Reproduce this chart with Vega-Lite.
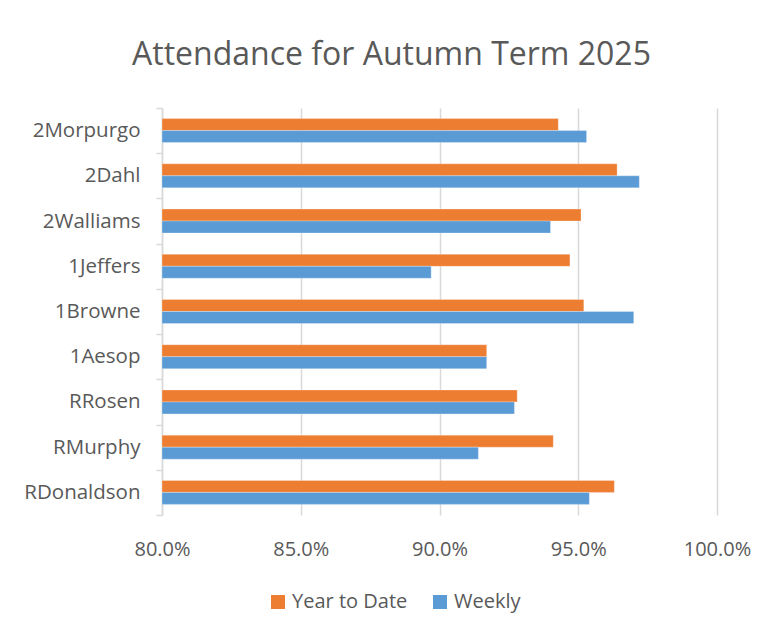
{
  "$schema": "https://vega.github.io/schema/vega-lite/v6.json",
  "autosize": "none",
  "width": 555,
  "height": 407,
  "padding": {"left": 162, "top": 108, "right": 56, "bottom": 118},
  "background": "white",
  "title": {
    "text": "Attendance for Autumn Term 2025",
    "font": "Open Sans",
    "fontSize": 32,
    "fontWeight": "normal",
    "color": "#595959",
    "anchor": "middle",
    "dx": -48,
    "offset": 26
  },
  "config": {
    "view": {"stroke": null},
    "font": "Open Sans"
  },
  "data": {
    "values": [
      {"class": "2Morpurgo", "series": "Year to Date", "value": 0.9428},
      {"class": "2Morpurgo", "series": "Weekly", "value": 0.953},
      {"class": "2Dahl", "series": "Year to Date", "value": 0.964},
      {"class": "2Dahl", "series": "Weekly", "value": 0.972},
      {"class": "2Walliams", "series": "Year to Date", "value": 0.951},
      {"class": "2Walliams", "series": "Weekly", "value": 0.94},
      {"class": "1Jeffers", "series": "Year to Date", "value": 0.947},
      {"class": "1Jeffers", "series": "Weekly", "value": 0.897},
      {"class": "1Browne", "series": "Year to Date", "value": 0.952},
      {"class": "1Browne", "series": "Weekly", "value": 0.97},
      {"class": "1Aesop", "series": "Year to Date", "value": 0.917},
      {"class": "1Aesop", "series": "Weekly", "value": 0.917},
      {"class": "RRosen", "series": "Year to Date", "value": 0.928},
      {"class": "RRosen", "series": "Weekly", "value": 0.927},
      {"class": "RMurphy", "series": "Year to Date", "value": 0.941},
      {"class": "RMurphy", "series": "Weekly", "value": 0.914},
      {"class": "RDonaldson", "series": "Year to Date", "value": 0.963},
      {"class": "RDonaldson", "series": "Weekly", "value": 0.954}
    ]
  },
  "mark": {"type": "bar", "stroke": "#ffffff", "strokeOpacity": 0.35, "strokeWidth": 0.8},
  "encoding": {
    "y": {
      "field": "class",
      "type": "nominal",
      "sort": ["2Morpurgo", "2Dahl", "2Walliams", "1Jeffers", "1Browne", "1Aesop", "RRosen", "RMurphy", "RDonaldson"],
      "scale": {"paddingInner": 0, "paddingOuter": 0},
      "axis": {
        "title": null,
        "labelFont": "Open Sans",
        "labelFontSize": 20.5,
        "labelColor": "#595959",
        "labelPadding": 16,
        "ticks": true,
        "tickBand": "extent",
        "tickSize": 6,
        "tickColor": "#d9d9d9",
        "tickWidth": 1.5,
        "domainColor": "#d9d9d9",
        "domainWidth": 1.5,
        "grid": false
      }
    },
    "yOffset": {
      "field": "series",
      "type": "nominal",
      "sort": ["Year to Date", "Weekly"],
      "scale": {"paddingInner": 0, "paddingOuter": 0.885}
    },
    "x": {
      "field": "value",
      "type": "quantitative",
      "scale": {"domain": [0.8, 1.0], "zero": false, "nice": false},
      "axis": {
        "title": null,
        "format": ".1%",
        "values": [0.8, 0.85, 0.9, 0.95, 1.0],
        "labelFont": "Open Sans",
        "labelFontSize": 20,
        "labelColor": "#595959",
        "labelPadding": 24,
        "labelFlush": false,
        "ticks": false,
        "domain": false,
        "grid": true,
        "gridColor": "#d9d9d9",
        "gridWidth": 1.5
      }
    },
    "x2": {"datum": 0.8},
    "color": {
      "field": "series",
      "type": "nominal",
      "sort": ["Year to Date", "Weekly"],
      "scale": {"domain": ["Year to Date", "Weekly"], "range": ["#ED7D31", "#5B9BD5"]},
      "legend": {
        "title": null,
        "orient": "none",
        "direction": "horizontal",
        "legendX": 106,
        "legendY": 484,
        "symbolType": "square",
        "symbolSize": 196,
        "symbolStrokeWidth": 0,
        "labelFont": "Open Sans",
        "labelFontSize": 20,
        "labelColor": "#595959",
        "labelOffset": 4,
        "columnPadding": 22
      }
    }
  }
}
